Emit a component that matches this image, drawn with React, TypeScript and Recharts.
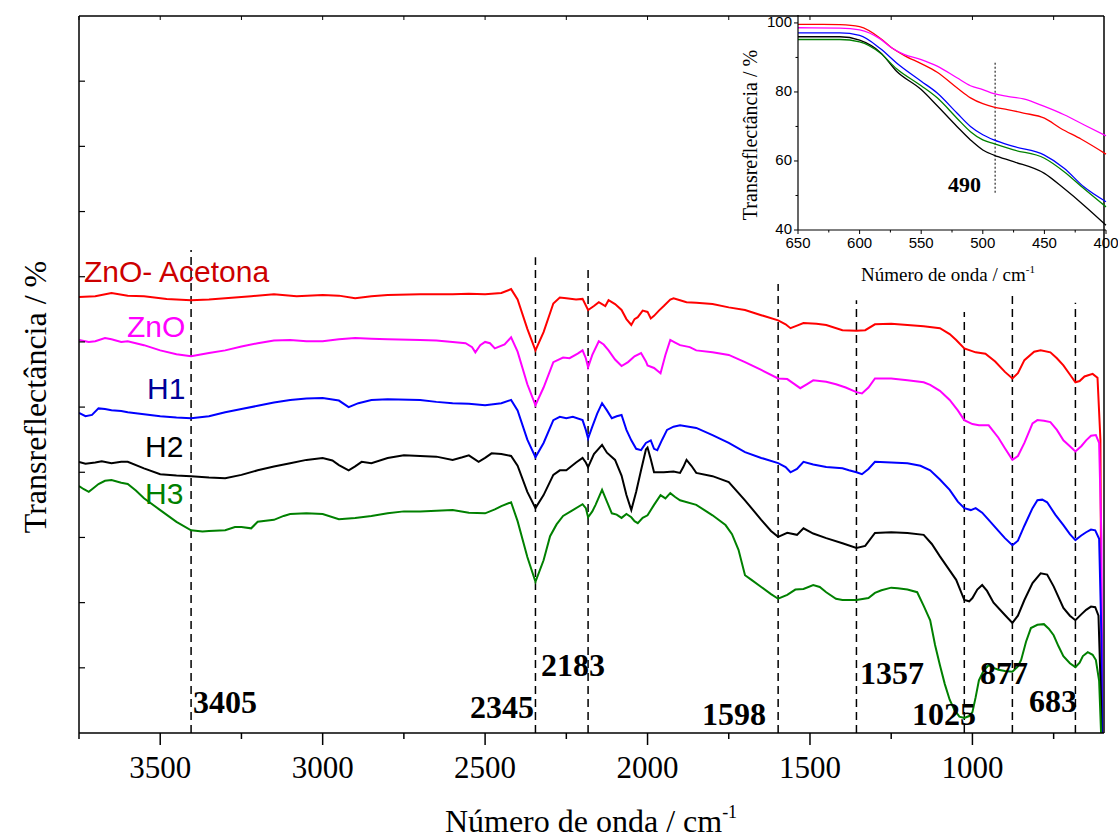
import React from "react";
import { LineChart, Line, XAxis, YAxis, ReferenceLine } from "recharts";

const SERIF = "'Liberation Serif', 'Times New Roman', serif";
const SANS = "'Liberation Sans', Arial, sans-serif";

// main spectrum: [wavenumber cm-1, transreflectance (a.u., offset)]
const znoAcetona: [number, number][] = [
  [3750, 66.9], [3700, 67.0], [3650, 67.5], [3600, 67.1], [3550, 67.0], [3480, 66.6], [3405, 66.4], [3350, 66.5],
  [3300, 66.7], [3220, 67.0], [3150, 67.3], [3080, 67.0], [3000, 67.2], [2950, 67.1], [2900, 66.7], [2850, 67.0],
  [2800, 67.2], [2700, 67.3], [2600, 67.3], [2550, 67.4], [2500, 67.3], [2450, 67.5], [2420, 68.1], [2400, 66.5],
  [2370, 62.0], [2345, 58.7], [2320, 61.5], [2290, 65.9], [2270, 66.8], [2250, 66.7], [2220, 66.5], [2200, 66.6],
  [2183, 64.9], [2165, 65.5], [2150, 66.1], [2130, 65.5], [2120, 66.4], [2100, 65.8], [2080, 64.9], [2065, 63.5],
  [2050, 62.6], [2040, 63.5], [2030, 63.8], [2015, 64.8], [2000, 64.6], [1990, 63.6], [1980, 64.0], [1965, 64.8],
  [1950, 65.5], [1930, 66.5], [1920, 66.7], [1900, 66.4], [1880, 66.1], [1850, 66.0], [1800, 65.8], [1750, 65.3],
  [1700, 64.9], [1650, 64.1], [1598, 63.3], [1575, 62.7], [1560, 62.1], [1540, 62.5], [1520, 62.9], [1480, 62.8],
  [1450, 62.6], [1400, 61.8], [1357, 61.7], [1330, 61.8], [1300, 62.7], [1250, 62.8], [1200, 62.6], [1150, 62.4],
  [1100, 62.1], [1070, 61.2], [1050, 60.3], [1025, 59.0], [990, 58.4], [960, 58.2], [930, 57.0], [900, 55.4],
  [877, 54.4], [860, 55.2], [840, 57.2], [810, 58.5], [790, 58.7], [760, 58.4], [740, 57.5], [720, 56.4],
  [700, 55.0], [683, 53.8], [670, 54.0], [655, 54.7], [630, 55.1], [615, 54.5], [606, 45], [600, -20],
];

const zno: [number, number][] = [
  [3750, 60.3], [3720, 60.0], [3700, 60.1], [3670, 60.6], [3650, 60.4], [3620, 60.0], [3600, 60.1], [3550, 59.5],
  [3500, 58.7], [3450, 58.1], [3405, 57.8], [3350, 58.3], [3300, 58.7], [3250, 59.3], [3200, 59.8], [3150, 60.2],
  [3100, 60.3], [3050, 60.1], [3000, 60.1], [2950, 60.4], [2900, 60.6], [2850, 60.5], [2800, 60.4], [2700, 60.3],
  [2650, 60.2], [2600, 60.0], [2560, 59.8], [2540, 59.2], [2530, 58.4], [2515, 59.5], [2500, 60.0], [2485, 59.8],
  [2470, 59.0], [2440, 59.6], [2420, 60.7], [2400, 58.5], [2370, 53.5], [2345, 50.3], [2320, 53.0], [2290, 56.9],
  [2260, 57.6], [2240, 57.5], [2215, 58.2], [2200, 58.7], [2190, 57.5], [2183, 56.1], [2170, 58.0], [2150, 60.1],
  [2135, 59.6], [2120, 58.7], [2100, 57.3], [2080, 56.3], [2060, 56.9], [2040, 57.8], [2020, 58.3], [2005, 57.0],
  [2000, 56.4], [1980, 56.0], [1960, 55.2], [1945, 58.0], [1930, 60.3], [1915, 59.9], [1900, 59.5], [1870, 59.2],
  [1850, 58.7], [1800, 58.4], [1750, 58.0], [1700, 56.9], [1650, 55.7], [1598, 54.4], [1570, 54.3], [1550, 53.6],
  [1530, 52.9], [1510, 53.5], [1490, 54.1], [1450, 53.9], [1420, 53.5], [1390, 53.0], [1357, 52.3], [1340, 52.1],
  [1320, 53.0], [1300, 54.4], [1250, 54.4], [1200, 54.1], [1150, 53.8], [1130, 53.4], [1100, 52.5], [1070, 51.1],
  [1045, 49.5], [1025, 48.0], [1000, 47.4], [980, 47.2], [950, 47.2], [920, 45.3], [900, 43.7], [877, 41.9],
  [860, 42.5], [840, 44.5], [815, 47.5], [800, 48.0], [780, 47.9], [760, 47.7], [740, 46.5], [720, 44.9],
  [700, 44.0], [683, 43.2], [665, 44.0], [650, 44.9], [635, 45.6], [620, 45.7], [610, 44.5], [603, 30], [598, -20],
];

const h1: [number, number][] = [
  [3750, 49.1], [3730, 48.6], [3710, 48.8], [3690, 49.8], [3670, 49.7], [3650, 49.5], [3620, 49.4], [3600, 49.2],
  [3550, 48.9], [3500, 48.6], [3450, 48.4], [3405, 48.3], [3350, 48.6], [3300, 49.2], [3250, 49.7], [3200, 50.2],
  [3150, 50.7], [3100, 51.1], [3050, 51.3], [3000, 51.4], [2950, 51.0], [2920, 50.0], [2890, 50.6], [2850, 51.1],
  [2800, 51.2], [2700, 51.1], [2650, 50.8], [2600, 50.6], [2550, 50.5], [2500, 50.3], [2450, 50.6], [2420, 51.1],
  [2400, 49.5], [2370, 45.0], [2345, 42.3], [2320, 44.5], [2290, 48.0], [2270, 48.5], [2250, 48.3], [2230, 48.5],
  [2200, 48.0], [2190, 46.5], [2183, 45.2], [2170, 47.0], [2155, 49.0], [2140, 50.6], [2125, 49.5], [2110, 48.3],
  [2095, 48.6], [2080, 48.8], [2065, 46.5], [2050, 44.9], [2035, 43.6], [2020, 43.4], [2005, 44.5], [1990, 44.9],
  [1980, 43.6], [1970, 43.4], [1955, 45.0], [1940, 46.5], [1920, 47.0], [1900, 47.2], [1850, 46.8], [1800, 45.7],
  [1750, 44.5], [1700, 43.1], [1650, 42.2], [1598, 41.4], [1575, 40.8], [1560, 40.0], [1540, 40.5], [1520, 41.6],
  [1490, 41.2], [1450, 40.8], [1400, 40.6], [1380, 40.3], [1357, 40.0], [1340, 39.7], [1320, 40.5], [1300, 41.6],
  [1250, 41.5], [1200, 41.4], [1160, 41.0], [1130, 40.3], [1100, 38.9], [1070, 37.3], [1045, 35.5], [1025, 34.5],
  [1005, 34.2], [990, 34.5], [970, 33.8], [950, 32.7], [920, 31.0], [900, 29.9], [877, 28.8], [860, 29.5],
  [840, 31.8], [815, 34.5], [800, 35.7], [785, 35.8], [770, 35.4], [745, 33.5], [720, 31.9], [700, 30.5],
  [683, 29.6], [665, 30.3], [650, 30.8], [635, 31.2], [622, 31.1], [610, 29.8], [603, 15], [598, -20],
];

const h2: [number, number][] = [
  [3750, 41.6], [3730, 41.3], [3700, 41.5], [3680, 41.7], [3650, 41.4], [3620, 41.6], [3600, 41.6], [3550, 40.6],
  [3500, 39.7], [3450, 39.5], [3405, 39.4], [3350, 39.2], [3300, 39.1], [3250, 39.6], [3200, 40.3], [3150, 40.9],
  [3100, 41.4], [3050, 41.9], [3000, 42.2], [2970, 41.8], [2950, 41.1], [2920, 40.3], [2900, 40.9], [2880, 41.6],
  [2850, 41.4], [2800, 42.2], [2750, 42.6], [2700, 42.5], [2650, 42.4], [2600, 41.9], [2570, 42.3], [2550, 42.6],
  [2520, 41.6], [2500, 42.2], [2480, 42.9], [2450, 42.8], [2420, 42.5], [2400, 41.0], [2370, 37.0], [2345, 34.5],
  [2320, 36.5], [2290, 39.6], [2270, 40.3], [2250, 40.3], [2220, 41.5], [2200, 42.2], [2190, 41.5], [2183, 40.8],
  [2165, 42.8], [2140, 44.2], [2125, 43.0], [2100, 41.9], [2080, 39.5], [2065, 36.5], [2050, 34.2], [2035, 37.0],
  [2020, 40.3], [2005, 43.5], [2000, 43.8], [1990, 42.0], [1980, 40.0], [1950, 40.0], [1920, 40.1], [1900, 39.9],
  [1890, 40.8], [1880, 41.9], [1865, 41.0], [1850, 39.9], [1800, 39.4], [1750, 38.5], [1700, 35.7], [1650, 32.7],
  [1620, 31.0], [1598, 30.1], [1570, 30.7], [1540, 30.4], [1520, 31.4], [1490, 30.6], [1450, 29.9], [1400, 29.1],
  [1357, 28.4], [1330, 28.7], [1300, 30.7], [1250, 30.8], [1200, 30.7], [1150, 30.4], [1125, 29.0], [1100, 27.1],
  [1075, 25.3], [1050, 23.5], [1025, 20.4], [1010, 20.2], [1000, 20.7], [985, 22.0], [970, 22.7], [955, 21.8],
  [935, 20.0], [900, 18.1], [877, 16.9], [860, 18.0], [840, 20.4], [815, 23.0], [790, 24.5], [770, 24.3],
  [750, 22.5], [720, 19.2], [700, 18.0], [683, 17.3], [665, 18.2], [650, 18.9], [635, 19.4], [622, 19.3],
  [612, 18.0], [604, 5], [599, -20],
];

const h3: [number, number][] = [
  [3750, 37.9], [3735, 37.4], [3720, 37.0], [3705, 37.6], [3690, 38.2], [3670, 38.7], [3650, 38.8], [3620, 38.4],
  [3600, 38.2], [3575, 37.2], [3550, 36.0], [3500, 34.2], [3450, 32.4], [3405, 31.1], [3370, 30.9], [3350, 31.0],
  [3300, 31.1], [3270, 31.6], [3250, 31.6], [3220, 31.4], [3200, 32.4], [3150, 32.7], [3120, 33.3], [3100, 33.6],
  [3050, 33.7], [3000, 33.6], [2950, 32.8], [2900, 33.0], [2850, 33.3], [2800, 33.7], [2750, 34.0], [2700, 34.0],
  [2650, 34.1], [2600, 34.2], [2550, 33.8], [2500, 33.7], [2470, 34.3], [2450, 34.8], [2420, 35.4], [2400, 32.5],
  [2370, 27.0], [2345, 23.2], [2320, 26.5], [2300, 30.2], [2280, 32.0], [2260, 33.3], [2230, 34.2], [2200, 35.1],
  [2190, 34.5], [2183, 33.1], [2170, 34.0], [2160, 35.0], [2140, 37.3], [2125, 35.5], [2110, 33.7], [2095, 33.5],
  [2080, 33.0], [2065, 33.6], [2050, 33.1], [2040, 32.5], [2030, 32.2], [2015, 33.0], [2000, 33.4], [1980, 35.0],
  [1960, 36.5], [1945, 36.0], [1930, 36.8], [1915, 36.2], [1900, 35.7], [1850, 35.0], [1800, 33.4], [1760, 31.9],
  [1740, 30.5], [1720, 28.1], [1700, 24.2], [1680, 23.5], [1650, 22.4], [1620, 21.3], [1598, 20.6], [1570, 21.2],
  [1545, 22.0], [1520, 22.1], [1490, 22.7], [1470, 22.4], [1450, 21.6], [1420, 20.6], [1400, 20.4], [1357, 20.4],
  [1320, 20.7], [1300, 21.5], [1280, 21.9], [1250, 22.3], [1230, 22.2], [1200, 22.0], [1170, 21.6], [1150, 19.5],
  [1130, 17.3], [1115, 13.5], [1100, 10.4], [1085, 7.5], [1070, 5.1], [1055, 3.5], [1040, 2.5], [1025, 2.3],
  [1010, 2.6], [1000, 3.2], [990, 5.5], [980, 8.1], [965, 9.6], [950, 10.4], [935, 10.0], [920, 9.7],
  [900, 9.5], [877, 9.4], [860, 10.2], [850, 11.2], [835, 14.0], [820, 16.1], [800, 16.6], [780, 16.7],
  [765, 16.0], [750, 15.0], [735, 13.3], [720, 11.8], [700, 10.7], [683, 10.1], [670, 10.8], [660, 11.8],
  [645, 12.4], [630, 12.0], [620, 11.2], [610, 8.0], [604, 0], [598, -20],
];

// marked bands and how high each dashed line reaches
const peaks = [3405, 2345, 2183, 1598, 1357, 1025, 877, 683];
const peakTops = [74.1, 73.0, 71.3, 68.9, 66.4, 64.6, 67.6, 66.0];

const xMajor = [3500, 3000, 2500, 2000, 1500, 1000];
const xTicks = [3750, 3500, 3250, 3000, 2750, 2500, 2250, 2000, 1750, 1500, 1250, 1000, 750];
const yTicks = [10, 20, 30, 40, 50, 60, 70, 80, 90, 100];

// inset: UV-vis region, [wavenumber, %]
const insetZnoAcetona: [number, number][] = [
  [650, 99.6], [630, 99.6], [616, 99.5], [600, 98.9], [583, 95.5], [574, 92.8], [564, 90.6], [550, 88.2],
  [537, 85.7], [521, 81.2], [510, 78.3], [500, 76.6], [491, 75.6], [480, 74.9], [467, 73.9], [450, 72.4],
  [437, 69.5], [420, 66.3], [400, 62.0],
];
const insetZno: [number, number][] = [
  [650, 98.6], [616, 98.5], [600, 98.0], [583, 95.3], [574, 92.8], [564, 90.9], [550, 89.4], [537, 87.5],
  [521, 84.1], [510, 81.8], [500, 80.7], [491, 79.5], [480, 78.7], [467, 78.0], [450, 75.8], [434, 73.4],
  [418, 70.5], [400, 67.3],
];
const insetH1: [number, number][] = [
  [650, 97.1], [616, 97.1], [600, 96.4], [583, 92.5], [570, 88.4], [550, 83.1], [537, 79.7], [521, 73.9],
  [510, 70.0], [500, 67.6], [491, 66.1], [475, 64.2], [450, 61.7], [434, 57.9], [418, 52.5], [400, 48.2],
];
const insetH2: [number, number][] = [
  [650, 96.0], [616, 96.0], [600, 95.0], [583, 91.4], [570, 86.0], [550, 80.7], [537, 76.0], [521, 70.0],
  [510, 66.1], [500, 63.2], [491, 61.7], [475, 59.8], [450, 56.4], [434, 52.0], [418, 47.2], [400, 41.4],
];
const insetH3: [number, number][] = [
  [650, 95.2], [616, 95.2], [600, 94.5], [583, 91.2], [570, 86.7], [550, 81.8], [537, 78.3], [521, 72.4],
  [510, 68.5], [500, 66.1], [491, 65.0], [475, 63.2], [450, 60.8], [434, 56.9], [418, 52.0], [400, 46.7],
];
const insetXTicks = [650, 625, 600, 575, 550, 525, 500, 475, 450, 425, 400];
const insetYTicks = [40, 50, 60, 70, 80, 90, 100];

const toPts = (a: [number, number][]) => a.map(([x, y]) => ({ x, y }));

const SERIES = [
  { name: "ZnO- Acetona", pts: znoAcetona, inset: insetZnoAcetona, color: "#ff0000" },
  { name: "ZnO", pts: zno, inset: insetZno, color: "#ff00ff" },
  { name: "H1", pts: h1, inset: insetH1, color: "#0000ff" },
  { name: "H2", pts: h2, inset: insetH2, color: "#000000" },
  { name: "H3", pts: h3, inset: insetH3, color: "#008000" },
];

function BottomTick(props: any) {
  const { x, y, payload } = props;
  const major = xMajor.includes(payload.value);
  return (
    <g>
      <line x1={x} x2={x} y1={y} y2={y + (major ? 12 : 6)} stroke="#000" strokeWidth={1.5} />
      {major && (
        <text x={x} y={y + 45} textAnchor="middle" fontFamily={SERIF} fontSize={31} fill="#000">
          {payload.value}
        </text>
      )}
    </g>
  );
}

function TopTick(props: any) {
  const { x, y } = props;
  return <line x1={x} x2={x} y1={y} y2={y + 4} stroke="#000" strokeWidth={1} />;
}

function LeftTick(props: any) {
  const { x, y } = props;
  return <line x1={x} x2={x + 6} y1={y} y2={y} stroke="#000" strokeWidth={1.2} />;
}

function InsetBottomTick(props: any) {
  const { x, y, payload } = props;
  const major = payload.value % 50 === 0;
  return (
    <g>
      <line x1={x} x2={x} y1={y} y2={y + (major ? 4 : 2.5)} stroke="#000" strokeWidth={1} />
      {major && (
        <text x={x} y={y + 18} textAnchor="middle" fontFamily={SANS} fontSize={15} fill="#000">
          {payload.value}
        </text>
      )}
    </g>
  );
}

function InsetLeftTick(props: any) {
  const { x, y, payload } = props;
  const major = payload.value % 20 === 0;
  return (
    <g>
      <line x1={x - (major ? 4 : 2.5)} x2={x} y1={y} y2={y} stroke="#000" strokeWidth={1} />
      {major && (
        <text x={x - 6} y={y + 4} textAnchor="end" fontFamily={SANS} fontSize={15} fill="#000">
          {payload.value}
        </text>
      )}
    </g>
  );
}

// peak labels, placed beside their dashed lines
const peakLabels = [
  { t: "3405", x: 193, y: 713, anchor: "start" },
  { t: "2345", x: 534, y: 718, anchor: "end" },
  { t: "2183", x: 541, y: 676, anchor: "start" },
  { t: "1598", x: 766, y: 725, anchor: "end" },
  { t: "1357", x: 860, y: 684, anchor: "start" },
  { t: "1025", x: 976, y: 725, anchor: "end" },
  { t: "877", x: 980, y: 684, anchor: "start" },
  { t: "683", x: 1077, y: 712, anchor: "end" },
];

const seriesLabels = [
  { t: "ZnO- Acetona", x: 84, y: 282, color: "#cc0000" },
  { t: "ZnO", x: 127, y: 337, color: "#ff00ff" },
  { t: "H1", x: 147, y: 399, color: "#000099" },
  { t: "H2", x: 145, y: 457, color: "#000000" },
  { t: "H3", x: 145, y: 504, color: "#008000" },
];

export default function App() {
  return (
    <div style={{ position: "absolute", left: 0, top: 0, width: 1118, height: 839, background: "#fff" }}>
      <LineChart width={1118} height={839} margin={{ top: 15, right: 13, bottom: 105, left: 78 }}>
        <XAxis
          dataKey="x"
          type="number"
          domain={[595, 3750]}
          reversed
          allowDataOverflow
          ticks={xTicks}
          interval={0}
          height={1}
          tickSize={0}
          tickMargin={0}
          tickLine={false}
          tick={<BottomTick />}
          axisLine={{ stroke: "#000", strokeWidth: 1.5 }}
        />
        <XAxis
          xAxisId="top"
          orientation="top"
          dataKey="x"
          type="number"
          domain={[595, 3750]}
          reversed
          allowDataOverflow
          ticks={xTicks}
          interval={0}
          height={1}
          tickSize={0}
          tickMargin={0}
          tickLine={false}
          tick={<TopTick />}
          axisLine={{ stroke: "#000", strokeWidth: 1.5 }}
        />
        <YAxis
          type="number"
          domain={[0, 110]}
          allowDataOverflow
          ticks={yTicks}
          interval={0}
          width={1}
          tickSize={0}
          tickMargin={0}
          tickLine={false}
          tick={<LeftTick />}
          axisLine={{ stroke: "#000", strokeWidth: 1.5 }}
        />
        <YAxis
          yAxisId="right"
          orientation="right"
          type="number"
          domain={[0, 110]}
          width={1}
          tick={false}
          tickLine={false}
          axisLine={{ stroke: "#000", strokeWidth: 1.5 }}
        />
        {peaks.map((p, i) => (
          <ReferenceLine
            key={p}
            segment={[{ x: p, y: 0 }, { x: p, y: peakTops[i] }]}
            stroke="#000"
            strokeWidth={1.5}
            strokeDasharray="8 5"
          />
        ))}
        {SERIES.map((s) => (
          <Line
            key={s.name}
            data={toPts(s.pts)}
            dataKey="y"
            name={s.name}
            type="linear"
            stroke={s.color}
            strokeWidth={2}
            dot={false}
            activeDot={false}
            isAnimationActive={false}
          />
        ))}
      </LineChart>

      <div style={{ position: "absolute", left: 730, top: 0 }}>
        <LineChart width={388} height={290} margin={{ top: 15, right: 12, bottom: 59, left: 67 }}>
          <XAxis
            dataKey="x"
            type="number"
            domain={[400, 650]}
            reversed
            ticks={insetXTicks}
            interval={0}
            height={1}
            tickSize={0}
            tickMargin={0}
            tickLine={false}
            tick={<InsetBottomTick />}
            axisLine={{ stroke: "#000", strokeWidth: 1.2 }}
          />
          <YAxis
            type="number"
            domain={[40, 102.3]}
            allowDataOverflow
            ticks={insetYTicks}
            interval={0}
            width={1}
            tickSize={0}
            tickMargin={0}
            tickLine={false}
            tick={<InsetLeftTick />}
            axisLine={{ stroke: "#000", strokeWidth: 1.2 }}
          />
          <ReferenceLine
            segment={[{ x: 490, y: 50.8 }, { x: 490, y: 89 }]}
            stroke="#000"
            strokeWidth={1}
            strokeDasharray="2 2"
          />
          {SERIES.map((s) => (
            <Line
              key={s.name}
              data={toPts(s.inset)}
              dataKey="y"
              name={s.name}
              type="monotone"
              stroke={s.color}
              strokeWidth={1.3}
              dot={false}
              activeDot={false}
              isAnimationActive={false}
            />
          ))}
        </LineChart>
      </div>

      <svg
        width={1118}
        height={839}
        style={{ position: "absolute", left: 0, top: 0, pointerEvents: "none" }}
      >
        {seriesLabels.map((l) => (
          <text key={l.t} x={l.x} y={l.y} fontFamily={SANS} fontSize={30} fill={l.color}>
            {l.t}
          </text>
        ))}
        {peakLabels.map((l) => (
          <text
            key={l.t}
            x={l.x}
            y={l.y}
            textAnchor={l.anchor as any}
            fontFamily={SERIF}
            fontWeight="bold"
            fontSize={32}
            fill="#000"
          >
            {l.t}
          </text>
        ))}
        <text
          transform="translate(46,397) rotate(-90)"
          textAnchor="middle"
          fontFamily={SERIF}
          fontSize={32}
          fill="#000"
        >
          Transreflectância / %
        </text>
        <text x={591} y={832} textAnchor="middle" fontFamily={SERIF} fontSize={32} fill="#000">
          Número de onda / cm<tspan dy={-14} fontSize={18}>-1</tspan>
        </text>
        <text
          transform="translate(757,135) rotate(-90)"
          textAnchor="middle"
          fontFamily={SERIF}
          fontSize={20}
          fill="#000"
        >
          Transreflectância / %
        </text>
        <text x={948} y={281} textAnchor="middle" fontFamily={SERIF} fontSize={19} fill="#000">
          Número de onda / cm<tspan dy={-8} fontSize={11}>-1</tspan>
        </text>
        <text x={948} y={192} fontFamily={SERIF} fontWeight="bold" fontSize={22} fill="#000">
          490
        </text>
      </svg>
    </div>
  );
}
